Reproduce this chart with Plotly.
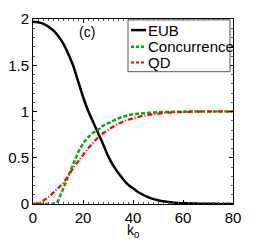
import plotly.graph_objects as go

k0 = list(range(0, 82, 2))
eub = [1.97, 1.965, 1.95, 1.92, 1.88, 1.82, 1.74, 1.63, 1.50, 1.33, 1.16, 1.01, 0.89, 0.77,
       0.65, 0.52, 0.42, 0.34, 0.27, 0.21, 0.17, 0.13, 0.10, 0.075, 0.055, 0.04, 0.03,
       0.022, 0.016, 0.012, 0.009, 0.007, 0.005, 0.004, 0.003, 0.002, 0.002, 0.001,
       0.001, 0.001, 0.0]
conc = [0, 0, 0, 0, 0, 0.03, 0.16, 0.295, 0.43, 0.555, 0.655, 0.72, 0.77, 0.80, 0.845,
        0.875, 0.90, 0.925, 0.945, 0.96, 0.97, 0.977, 0.983, 0.987, 0.99, 0.993, 0.995,
        0.997, 0.998, 0.999, 0.999, 1.0, 1.0, 1.0, 1.0, 1.0, 1.0, 1.0, 1.0, 1.0, 1.0]
qd = [0, 0.01, 0.035, 0.07, 0.12, 0.17, 0.225, 0.30, 0.385, 0.46, 0.53, 0.60, 0.66,
      0.72, 0.765, 0.80, 0.835, 0.865, 0.89, 0.91, 0.927, 0.94, 0.952, 0.962, 0.97,
      0.977, 0.983, 0.988, 0.991, 0.993, 0.995, 0.997, 0.998, 0.999, 0.999, 1.0, 1.0,
      1.0, 1.0, 1.0, 1.0]

names = ["EUB", "Concurrence", "QD"]
colors = ["black", "#00b000", "#ff0000"]
dashes = ["solid", "4px,2px", "5px,2px,1px,2px"]
widths = [2.5, 2.5, 2.2]
shapes_ = ["spline", "linear", "spline"]
series = [eub, conc, qd]

FONT = "Liberation Sans, Arial"

fig = go.Figure()
for nm, ys, c, d, w, sh in zip(names, series, colors, dashes, widths, shapes_):
    fig.add_trace(go.Scatter(x=k0, y=ys, mode="lines", name=nm, showlegend=False,
                             line=dict(color=c, dash=d, width=w, shape=sh)))

# manual legend
fig.add_shape(type="rect", xref="paper", yref="paper", x0=0.475, x1=0.985, y0=0.715, y1=0.995,
              line=dict(color="#555", width=1), fillcolor="white", layer="above")
leg_y = [0.94, 0.85, 0.765]
leg_dash = ["solid", "3px,2px", "3px,2px"]
for nm, c, d, w, yy in zip(names, colors, leg_dash, widths, leg_y):
    fig.add_shape(type="line", xref="paper", yref="paper", x0=0.49, x1=0.565, y0=yy, y1=yy,
                  line=dict(color=c, dash=d, width=w), layer="above")
    fig.add_annotation(xref="paper", yref="paper", x=0.566, y=yy, text=nm, showarrow=False,
                       xanchor="left", yanchor="middle",
                       font=dict(family=FONT, size=15, color="black"))

fig.add_annotation(x=21.5, y=1.86, text="(c)", showarrow=False,
                   font=dict(family=FONT, size=14, color="black"))

# x-axis title
fig.add_annotation(xref="paper", yref="paper", x=0.5, y=0, yanchor="top", yshift=-17,
                   text="k<sub>0</sub>", showarrow=False, borderpad=0,
                   font=dict(family=FONT, size=14, color="black"))

fig.update_layout(
    width=250, height=234,
    margin=dict(l=25, r=25, t=11, b=38, autoexpand=False),
    paper_bgcolor="white", plot_bgcolor="white",
    font=dict(family=FONT, size=15, color="black"),
)
fig.update_xaxes(range=[0, 80], tickvals=[0, 20, 40, 60, 80], showgrid=False, zeroline=False,
                 showline=True, linecolor="black", linewidth=1, mirror="allticks",
                 ticks="inside", ticklen=4, tickcolor="black", automargin=False,
                 minor=dict(dtick=2, ticks="inside", ticklen=2, tickcolor="#555"))
fig.update_yaxes(range=[0, 2], tickvals=[0, 0.5, 1, 1.5, 2], ticktext=["0", "0.5", "1", "1.5", "2"],
                 showgrid=False, zeroline=False, automargin=False,
                 showline=True, linecolor="black", linewidth=1, mirror="allticks",
                 ticks="inside", ticklen=4, tickcolor="black",
                 minor=dict(dtick=0.1, ticks="inside", ticklen=2, tickcolor="#555"))

fig.write_html("out.html")
